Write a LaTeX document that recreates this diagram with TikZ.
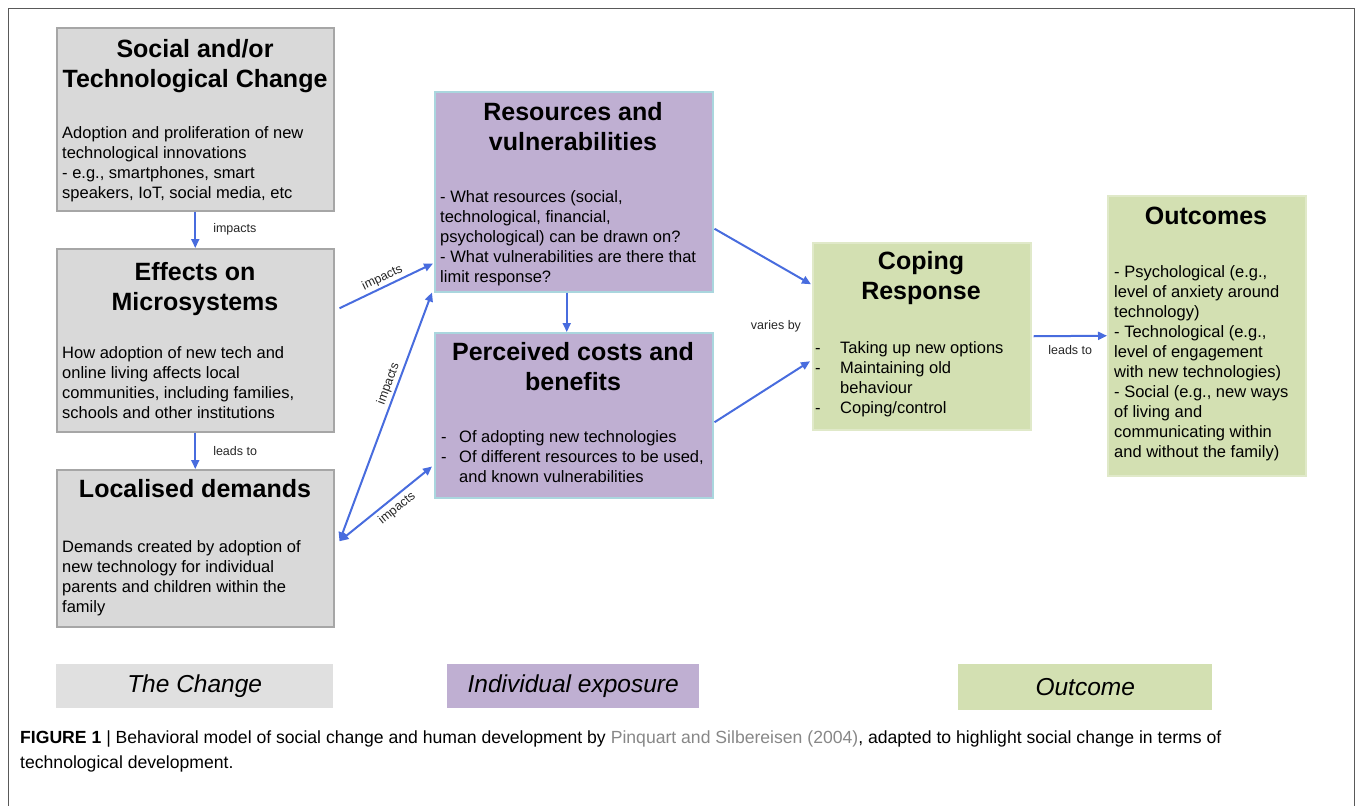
\documentclass[tikz,border=0pt]{standalone}
\usepackage{fontspec}
\setmainfont{Liberation Sans}
\usetikzlibrary{arrows.meta,positioning,calc}
\definecolor{chg}{RGB}{217,217,217}
\definecolor{chgline}{RGB}{166,166,166}
\definecolor{chgkey}{RGB}{224,224,224}
\definecolor{expo}{RGB}{191,175,210}
\definecolor{expoline}{RGB}{170,214,222}
\definecolor{outc}{RGB}{211,224,178}
\definecolor{link}{RGB}{72,108,222}
\definecolor{cite}{RGB}{135,135,135}

\begin{document}
\begin{tikzpicture}[x=1pt,y=-1pt,
  box/.style={rectangle,anchor=north west,inner sep=0pt,line width=1.5pt},
  chgbox/.style={box,draw=chgline,fill=chg},
  expobox/.style={box,draw=expoline,fill=expo},
  outbox/.style={box,draw=outc!70!white,fill=outc},
  head/.style={font=\fontsize{25}{30}\selectfont\bfseries,align=center,anchor=north,inner sep=0pt},
  body/.style={font=\fontsize{16.5}{20}\selectfont,align=left,anchor=north west,inner sep=0pt},
  lbl/.style={font=\fontsize{12.5}{14}\selectfont,text=black!85,inner sep=2pt},
  key/.style={rectangle,anchor=north west,inner sep=0pt,font=\fontsize{24.5}{28}\selectfont\itshape},
  capt/.style={font=\fontsize{17.6}{25}\selectfont,anchor=base west,inner sep=0pt},
  tip/.style={Triangle[length=9pt,width=8pt]},
  arr/.style={-{Triangle[length=9pt,width=8pt]},link,line width=2pt},
  arrs/.style={{Triangle[length=9pt,width=8pt]}-{Triangle[length=9pt,width=8pt]},link,line width=2pt}]

  \useasboundingbox (0,0) rectangle (1358,806);
  \draw[gray!70!black,line width=0.8pt] (8,810) -- (8,8) -- (1354,8) -- (1354,810);

  % the change
  \node[chgbox,minimum width=277pt,minimum height=183pt] (soc) at (56,27) {};
  \node[chgbox,minimum width=277pt,minimum height=183pt] (eff) at (56,248) {};
  \node[chgbox,minimum width=277pt,minimum height=157pt] (loc) at (56,469) {};

  \node[head] (socT) at (195,39) {Social and/or\\Technological Change};
  \node[body] (socB) at (62,126) {Adoption and proliferation of new\\technological innovations\\- e.g., smartphones, smart\\speakers, IoT, social media, etc};
  \node[head] (effT) at (195,262) {Effects on\\Microsystems};
  \node[body] (effB) at (62,346) {How adoption of new tech and\\online living affects local\\communities, including families,\\schools and other institutions};
  \node[head] (locT) at (195,479) {Localised demands};
  \node[body] (locB) at (62,540) {Demands created by adoption of\\new technology for individual\\parents and children within the\\family};

  % individual exposure
  \node[expobox,minimum width=278pt,minimum height=200pt] (res) at (434,91) {};
  \node[expobox,minimum width=278pt,minimum height=165pt] (per) at (434,332) {};

  \node[head] (resT) at (573,102) {Resources and\\vulnerabilities};
  \node[body] (resB) at (440,190) {- What resources (social,\\technological, financial,\\psychological) can be drawn on?\\- What vulnerabilities are there that\\limit response?};
  \node[head] (perT) at (573,342) {Perceived costs and\\benefits};
  \node[body] (perB) at (441,430) {\makebox[18pt][l]{-}Of adopting new technologies\\\makebox[18pt][l]{-}Of different resources to be used,\\\hspace*{18pt}and known vulnerabilities};

  % outcome
  \node[outbox,minimum width=218pt,minimum height=187pt] (cop) at (812,242) {};
  \node[outbox,minimum width=198pt,minimum height=280pt] (out) at (1107,195) {};

  \node[head] (copT) at (921,251) {Coping\\Response};
  \node[body] (copB) at (815,341) {\makebox[25pt][l]{-}Taking up new options\\\makebox[25pt][l]{-}Maintaining old\\\hspace*{25pt}behaviour\\\makebox[25pt][l]{-}Coping/control};
  \node[head] (outT) at (1206,207) {Outcomes};
  \node[body] (outB) at (1114,265) {- Psychological (e.g.,\\level of anxiety around\\technology)\\- Technological (e.g.,\\level of engagement\\with new technologies)\\- Social (e.g., new ways\\of living and\\communicating within\\and without the family)};

  \draw[arr] (soc.south) -- node[lbl,right=15pt] {impacts} (eff.north);
  \draw[arr] (eff.south) -- node[lbl,right=15pt] {leads to} (loc.north);
  \draw[arr] ([xshift=5pt,yshift=32pt]eff.east) -- node[lbl,sloped,above] {impacts} ([xshift=-1pt,yshift=29pt]res.south west);
  \draw[arrs] ([xshift=5pt,yshift=7pt]loc.east) -- node[lbl,sloped,above,pos=0.62] {impacts} ([xshift=-2pt]res.south west);
  \draw[arrs] ([xshift=5pt,yshift=7pt]loc.east) -- node[lbl,sloped,below=2pt,pos=0.55] {impacts} ([xshift=-2pt,yshift=32pt]per.south west);
  \draw[arr] ([xshift=-7pt]res.south) -- ([xshift=-7pt]per.north);
  \draw[arr] ([xshift=1pt,yshift=-37pt]res.east) -- ([xshift=-1pt,yshift=52pt]cop.west);
  \draw[arr] ([xshift=1pt,yshift=-7pt]per.east) -- ([xshift=-2pt,yshift=-25pt]cop.west);
  \node[lbl] (vary) at (776,326) {varies by};
  \draw[arr] ([xshift=2pt]cop.east) -- node[lbl,below=6pt] {leads to} (out.west);

  % key
  \node[key,fill=chgkey,minimum width=277pt,minimum height=44pt] (kchg) at (56,664) {The Change};
  \node[key,fill=expo,minimum width=252pt,minimum height=44pt] (kexp) at (447,664) {Individual exposure};
  \node[key,fill=outc,minimum width=254pt,minimum height=46pt] (kout) at (958,664) {Outcome};

  \node[capt] (cap1) at (20,743) {\textbf{FIGURE 1} | Behavioral model of social change and human development by \textcolor{cite}{Pinquart and Silbereisen (2004)}, adapted to highlight social change in terms of};
  \node[capt] (cap2) at (20,768) {technological development.};
\end{tikzpicture}
\end{document}
